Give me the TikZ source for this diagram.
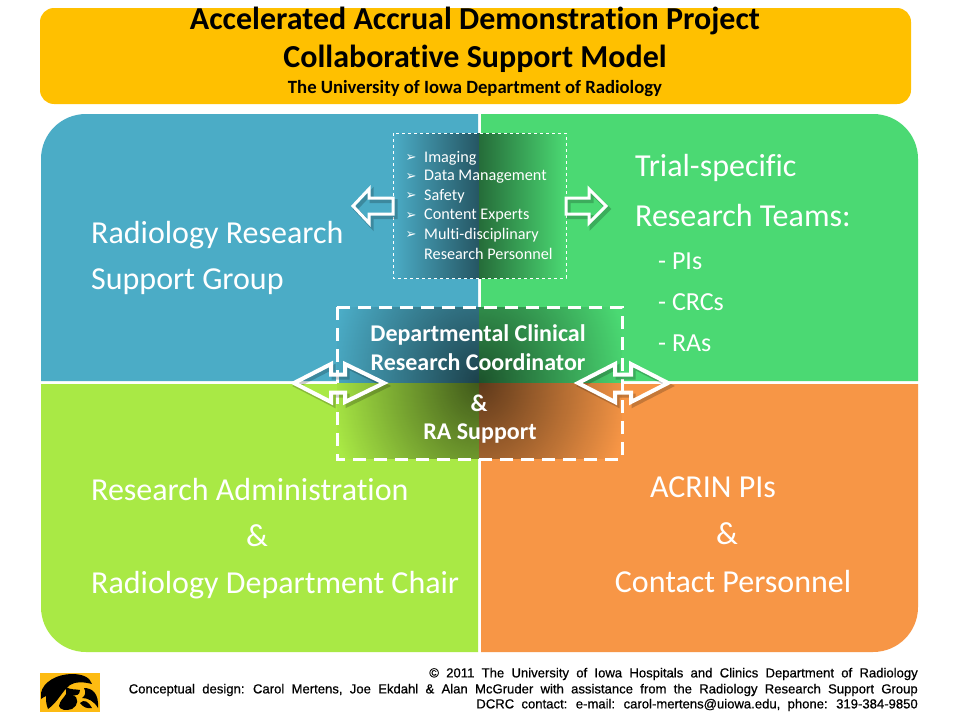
\documentclass[tikz,border=0pt]{standalone}
\usepackage{fontspec}
\setmainfont[Ligatures=NoCommon]{Carlito}
\newfontfamily\footfont[WordSpace=2,FakeBold=0.6]{Liberation Sans}
\newfontfamily\symfont{DejaVu Sans}
\usetikzlibrary{fadings}
\definecolor{hdrgold}{HTML}{FFC000}
\definecolor{qblue}{HTML}{4BACC6}
\definecolor{qgreen}{HTML}{4BD973}
\definecolor{qlime}{HTML}{A9E945}
\definecolor{qorange}{HTML}{F79646}
\definecolor{hawkgold}{HTML}{FDBB12}
\tikzfading[name=centerdark, inner color=transparent!38, outer color=transparent!100]
\tikzset{
  x=1pt,y=-1pt,
  biglabel/.style={text=white,font=\fontsize{32}{32}\selectfont,inner sep=0pt},
  leftlabel/.style={biglabel,anchor=west},
  sublabel/.style={leftlabel,font=\fontsize{26}{26}\selectfont},
  midlabel/.style={text=white,font=\bfseries\fontsize{24}{24}\selectfont,inner sep=0pt},
  listlabel/.style={text=white,font=\fontsize{16.2}{16}\selectfont,inner sep=0pt,anchor=west},
  bullet/.style={text=white,font=\symfont\fontsize{13}{13}\selectfont,inner sep=0pt},
  titlelabel/.style={text=black,font=\bfseries\fontsize{32}{32}\selectfont,inner sep=0pt},
  footlabel/.style={text=black,font=\footfont\fontsize{13.1}{13}\selectfont,inner sep=0pt,anchor=east},
  blockarrow/.style={draw=white,line width=3pt,line join=miter},
  widearrow/.style={blockarrow,line width=4pt},
  arrowshade/.style={draw=black,draw opacity=.2,line width=4pt,line join=miter},
}
\newcommand{\leftarrowpath}{(353,206) -- (369,189) -- (369,198) -- (393,198) -- (393,214) -- (369,214) -- (369,223) -- cycle}
\newcommand{\rightarrowpath}{(606,206) -- (589,189) -- (589,198) -- (566,198) -- (566,214) -- (589,214) -- (589,223) -- cycle}
\newcommand{\dblleftpath}{(294,383) -- (331,364) -- (331,374.5) -- (345,374.5) -- (345,364) -- (384,383) -- (345,402) -- (345,392.5) -- (331,392.5) -- (331,402) -- cycle}
\newcommand{\dblrightpath}{(578,383) -- (615,364) -- (615,374.5) -- (631,374.5) -- (631,364) -- (668,383) -- (631,402) -- (631,392.5) -- (615,392.5) -- (615,402) -- cycle}
\begin{document}
\begin{tikzpicture}
\useasboundingbox (0,0) rectangle (960,720);
\fill[white] (0,0) rectangle (960,720);
% header
\fill[hdrgold,rounded corners=14pt] (40,8) rectangle (911,104);
\node[titlelabel] (t1) at (475,21) {Accelerated Accrual Demonstration Project};
\node[titlelabel] (t2) at (475,59) {Collaborative Support Model};
\node[text=black,font=\bfseries\fontsize{18.7}{18}\selectfont,inner sep=0pt] (t3) at (475,89) {The University of Iowa Department of Radiology};
% quadrants
\fill[qblue] (478,381) -- (41,381) -- (41,159) .. controls (41,134) and (61,114) .. (86,114) -- (478,114) -- cycle;
\fill[qgreen] (481,381) -- (918,381) -- (918,159) .. controls (918,134) and (898,114) .. (873,114) -- (481,114) -- cycle;
\fill[qlime] (478,384) -- (41,384) -- (41,607) .. controls (41,632) and (61,652) .. (86,652) -- (478,652) -- cycle;
\fill[qorange] (481,384) -- (918,384) -- (918,607) .. controls (918,632) and (898,652) .. (873,652) -- (481,652) -- cycle;
% the centre box closes the gaps between the quadrants
\fill[qblue] (337,307) rectangle (479,382.5);
\fill[qgreen] (479,307) rectangle (622,382.5);
\fill[qlime] (337,382.5) rectangle (479,459);
\fill[qorange] (479,382.5) rectangle (622,459);
% darkened overlays
\shade[left color=qblue,middle color=qblue!88!black,right color=qblue!50!black] (393,133) rectangle (479,278);
\shade[left color=qgreen!50!black,middle color=qgreen!78!black,right color=qgreen] (479,133) rectangle (566,278);
\fill[black,path fading=centerdark,fit fading=false,fading transform={shift={(479,382)},xscale=6,yscale=7}] (337,307) rectangle (622,459);
\draw[white,line width=1pt,dash pattern=on 3pt off 3pt] (393,133) rectangle (566,278);
\draw[white,line width=3pt,dash pattern=on 13pt off 8pt] (337,307) rectangle (622,459);
% arrows
\begin{scope}[shift={(2.5,3)}]
\draw[arrowshade] \leftarrowpath;
\draw[arrowshade] \rightarrowpath;
\draw[arrowshade] \dblleftpath;
\draw[arrowshade] \dblrightpath;
\end{scope}
\draw[blockarrow] \leftarrowpath;
\draw[blockarrow] \rightarrowpath;
\draw[widearrow] \dblleftpath;
\draw[widearrow] \dblrightpath;
% quadrant labels
\node[leftlabel] (a1) at (91,235) {Radiology Research};
\node[leftlabel] (a2) at (91,282) {Support Group};
\node[leftlabel] (b1) at (635,168) {Trial-specific};
\node[leftlabel] (b2) at (635,215.5) {Research Teams:};
\node[sublabel] (b3) at (658,261) {- PIs};
\node[sublabel] (b4) at (658,302) {- CRCs};
\node[sublabel] (b5) at (658,343) {- RAs};
\node[leftlabel] (c1) at (91,489.5) {Research Administration};
\node[biglabel] (c2) at (257,536) {\&};
\node[leftlabel] (c3) at (91,585) {Radiology Department Chair};
\node[biglabel] (d1) at (713,487) {ACRIN PIs};
\node[biglabel] (d2) at (727,534) {\&};
\node[biglabel] (d3) at (733,581.5) {Contact Personnel};
% centre text
\node[midlabel] (m1) at (478,334.5) {Departmental Clinical};
\node[midlabel] (m2) at (478,362.5) {Research Coordinator};
\node[midlabel] (m3) at (479,403.5) {\&};
\node[midlabel] (m4) at (480,434) {RA Support};
% list
\foreach \n/\y/\t in {1/158/Imaging,2/177/Data Management,3/196/Safety,4/216/Content Experts,5/235/Multi-disciplinary}{
  \node[bullet] (k\n) at (411,\y) {➢};
  \node[listlabel] (l\n) at (424,\y) {\t};
}
\node[listlabel] (l6) at (424,254) {Research Personnel};
% logo
\fill[hawkgold] (40,673) rectangle (100,712);
\fill[black] (41,693) .. controls (43,682) and (57,674) .. (72,674) .. controls (82,674) and (90,677) .. (92,684)
  .. controls (84,682) and (76,681) .. (70,685) .. controls (62,691) and (58,702) .. (48,709)
  .. controls (46,704) and (46,700) .. (46,696) .. controls (44,697) and (42,698) .. (41,699) -- cycle;
\fill[black] (66,687) .. controls (70,690) and (76,689) .. (80,690) .. controls (80,695) and (76,696) .. (72,695)
  .. controls (80,697) and (78,706) .. (72,709) .. controls (66,711) and (60,710) .. (59,706)
  .. controls (60,700) and (64,698) .. (66,694) -- cycle;
\fill[black] (84,688) .. controls (92,688) and (99,693) .. (98,708) .. controls (94,701) and (88,698) .. (82,698)
  .. controls (86,695) and (86,692) .. (84,688) -- cycle;
\fill[black] (80,703) .. controls (84,699) and (88,701) .. (92,708) .. controls (87,709) and (83,707) .. (80,703) -- cycle;
% footer
\node[footlabel] (f1) at (918,674) {© 2011 The University of Iowa Hospitals and Clinics Department of Radiology};
\node[footlabel] (f2) at (918,690) {Conceptual design: Carol Mertens, Joe Ekdahl \& Alan McGruder with assistance from the Radiology Research Support Group};
\node[footlabel] (f3) at (918,705) {DCRC contact: e-mail: carol-mertens@uiowa.edu, phone: 319-384-9850};
\end{tikzpicture}
\end{document}
